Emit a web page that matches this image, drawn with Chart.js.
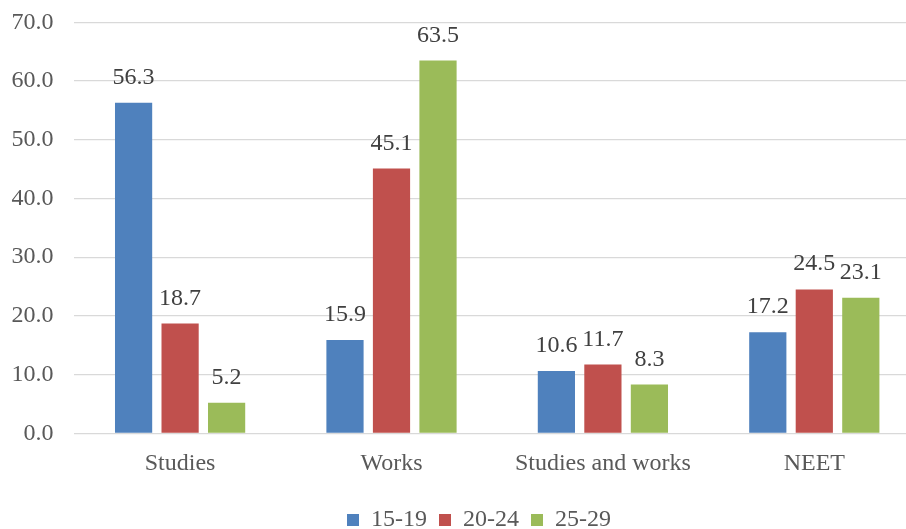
<!DOCTYPE html>
<html>
<head>
<meta charset="utf-8">
<script src="https://cdn.jsdelivr.net/npm/chart.js@4/dist/chart.umd.min.js"></script>
<style>
  html, body { margin: 0; padding: 0; background: #ffffff; overflow: hidden; }
  #wrap { width: 906px; height: 529px; overflow: hidden; position: relative; }
  canvas { display: block; margin-top: -13px; }
</style>
</head>
<body>
<div id="wrap"><canvas id="chart" width="920" height="555"></canvas></div>
<script>
// Activity status by age group (%)
const categories = ['Studies', 'Works', 'Studies and works', 'NEET'];
const seriesNames = ['15-19', '20-24', '25-29'];
const age15to19 = [56.3, 15.9, 10.6, 17.2];
const age20to24 = [18.7, 45.1, 11.7, 24.5];
const age25to29 = [5.2, 63.5, 8.3, 23.1];
const yTicks = [0, 10, 20, 30, 40, 50, 60, 70];

const seriesColors = ['#4F81BD', '#C0504D', '#9BBB59'];
const fontFamily = '"Liberation Serif", "Times New Roman", serif';
const fontSize = 24;

// Value labels above each bar
const valueLabels = {
  id: 'valueLabels',
  afterDatasetsDraw(chart) {
    const ctx = chart.ctx;
    ctx.save();
    ctx.font = fontSize + 'px ' + fontFamily;
    ctx.fillStyle = '#404040';
    ctx.textAlign = 'center';
    ctx.textBaseline = 'alphabetic';
    chart.data.datasets.forEach((ds, i) => {
      chart.getDatasetMeta(i).data.forEach((bar, j) => {
        ctx.fillText(ds.data[j].toFixed(1), bar.x, bar.y - 19);
      });
    });
    ctx.restore();
  }
};

// Nudge the legend block to the right
const legendShift = {
  id: 'legendShift',
  afterLayout(chart) {
    if (chart.legend) {
      chart.legend.left += 14;
      chart.legend.right += 14;
    }
  }
};

new Chart(document.getElementById('chart'), {
  type: 'bar',
  data: {
    labels: categories,
    datasets: [
      { label: seriesNames[0], data: age15to19, backgroundColor: seriesColors[0] },
      { label: seriesNames[1], data: age20to24, backgroundColor: seriesColors[1] },
      { label: seriesNames[2], data: age25to29, backgroundColor: seriesColors[2] }
    ]
  },
  options: {
    responsive: false,
    animation: false,
    devicePixelRatio: 1,
    layout: { padding: { left: 10, right: 0, top: 0, bottom: 0 } },
    datasets: { bar: { categoryPercentage: 0.66, barPercentage: 0.8 } },
    scales: {
      x: {
        grid: { display: false, drawTicks: false },
        border: { display: false },
        ticks: {
          color: '#595959',
          font: { family: fontFamily, size: fontSize },
          padding: 16,
          maxRotation: 0
        },
        afterFit(axis) { axis.height = 62.7; }
      },
      y: {
        min: 0,
        max: 70,
        afterBuildTicks(axis) { axis.ticks = yTicks.map(v => ({ value: v })); },
        grid: { color: '#D9D9D9', lineWidth: 1.3, drawTicks: false },
        border: { display: false },
        ticks: {
          color: '#595959',
          font: { family: fontFamily, size: fontSize },
          padding: 21,
          callback: v => Number(v).toFixed(1)
        },
        afterFit(axis) { axis.width = 64.4; }
      }
    },
    plugins: {
      tooltip: { enabled: false },
      legend: {
        position: 'bottom',
        labels: {
          color: '#595959',
          font: { family: fontFamily, size: fontSize },
          boxWidth: 12,
          boxHeight: 12,
          padding: 12
        }
      }
    }
  },
  plugins: [valueLabels, legendShift]
});
</script>
</body>
</html>
